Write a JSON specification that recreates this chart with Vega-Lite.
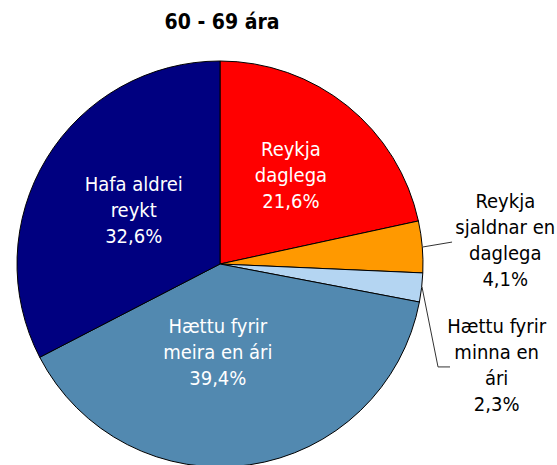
{
  "$schema": "https://vega.github.io/schema/vega-lite/v6.json",
  "width": 440,
  "height": 448,
  "autosize": "none",
  "padding": {"left": 0, "top": 40, "right": 117, "bottom": 0},
  "background": "white",
  "title": {"text": "60 - 69 ára", "font": "DejaVu Sans Condensed", "fontSize": 21, "fontWeight": "bold", "anchor": "middle", "frame": "group", "offset": 7, "dx": 2, "color": "black"},
  "config": {
    "view": {"stroke": null},
    "text": {"font": "DejaVu Sans Condensed", "fontSize": 20, "lineHeight": 26, "lineBreak": "\n", "align": "center", "baseline": "middle"}
  },
  "datasets": {
    "slices": [
      {"name": "Reykja daglega", "pct": 21.6, "order": 1, "label": "Reykja\ndaglega\n21,6%"},
      {"name": "Reykja sjaldnar en daglega", "pct": 4.1, "order": 2, "label": "Reykja\nsjaldnar en\ndaglega\n4,1%"},
      {"name": "Hættu fyrir minna en ári", "pct": 2.3, "order": 3, "label": "Hættu fyrir\nminna en\nári\n2,3%"},
      {"name": "Hættu fyrir meira en ári", "pct": 39.4, "order": 4, "label": "Hættu fyrir\nmeira en ári\n39,4%"},
      {"name": "Hafa aldrei reykt", "pct": 32.6, "order": 5, "label": "Hafa aldrei\nreykt\n32,6%"}
    ],
    "leaders": [
      {"slice": "sjaldnar", "step": 1, "x": 1.0, "y": 0.084},
      {"slice": "sjaldnar", "step": 2, "x": 1.143, "y": 0.108},
      {"slice": "minna", "step": 1, "x": 0.995, "y": -0.113},
      {"slice": "minna", "step": 2, "x": 1.074, "y": -0.507},
      {"slice": "minna", "step": 3, "x": 1.133, "y": -0.507}
    ]
  },
  "data": {"name": "slices"},
  "layer": [
    {
      "mark": {"type": "arc", "radius": 203, "stroke": "black", "strokeWidth": 1},
      "encoding": {
        "theta": {"field": "pct", "type": "quantitative", "stack": true},
        "order": {"field": "order", "type": "quantitative"},
        "color": {
          "field": "name", "type": "nominal", "legend": null,
          "scale": {
            "domain": ["Reykja daglega", "Reykja sjaldnar en daglega", "Hættu fyrir minna en ári", "Hættu fyrir meira en ári", "Hafa aldrei reykt"],
            "range": ["#FF0000", "#FF9900", "#B4D5F2", "#5289B0", "#000080"]
          }
        }
      }
    },
    {
      "mark": {"type": "text", "radius": 113, "dy": -26, "color": "white"},
      "encoding": {
        "theta": {"field": "pct", "type": "quantitative", "stack": true},
        "order": {"field": "order", "type": "quantitative"},
        "text": {"condition": {"test": "datum.name == 'Reykja daglega'", "field": "label"}, "value": ""}
      }
    },
    {
      "mark": {"type": "text", "radius": 101, "dy": -26, "color": "white"},
      "encoding": {
        "theta": {"field": "pct", "type": "quantitative", "stack": true},
        "order": {"field": "order", "type": "quantitative"},
        "text": {"condition": {"test": "datum.name == 'Hafa aldrei reykt'", "field": "label"}, "value": ""}
      }
    },
    {
      "mark": {"type": "text", "radius": 89, "dx": -15, "dy": -25, "color": "white"},
      "encoding": {
        "theta": {"field": "pct", "type": "quantitative", "stack": true},
        "order": {"field": "order", "type": "quantitative"},
        "text": {"condition": {"test": "datum.name == 'Hættu fyrir meira en ári'", "field": "label"}, "value": ""}
      }
    },
    {
      "mark": {"type": "text", "radius": 203, "dx": 83, "dy": -45, "color": "black"},
      "encoding": {
        "theta": {"field": "pct", "type": "quantitative", "stack": true},
        "order": {"field": "order", "type": "quantitative"},
        "text": {"condition": {"test": "datum.name == 'Reykja sjaldnar en daglega'", "field": "label"}, "value": ""}
      }
    },
    {
      "mark": {"type": "text", "radius": 203, "dx": 75, "dy": 39, "color": "black"},
      "encoding": {
        "theta": {"field": "pct", "type": "quantitative", "stack": true},
        "order": {"field": "order", "type": "quantitative"},
        "text": {"condition": {"test": "datum.name == 'Hættu fyrir minna en ári'", "field": "label"}, "value": ""}
      }
    },
    {
      "data": {"name": "leaders"},
      "mark": {"type": "line", "color": "#333333", "strokeWidth": 1},
      "encoding": {
        "x": {"field": "x", "type": "quantitative", "axis": null, "scale": {"domain": [-1.0837, 1.0837], "nice": false, "zero": false}},
        "y": {"field": "y", "type": "quantitative", "axis": null, "scale": {"domain": [-1.1034, 1.1034], "nice": false, "zero": false}},
        "detail": {"field": "slice", "type": "nominal"},
        "order": {"field": "step", "type": "quantitative"}
      }
    }
  ]
}
